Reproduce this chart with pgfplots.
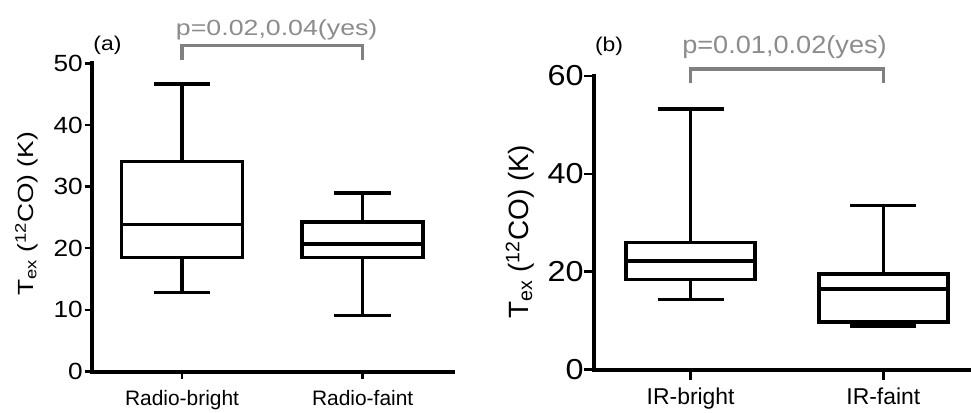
\documentclass[border=0pt]{standalone}
\usepackage{pgfplots}
\pgfplotsset{compat=1.18}
\usepgfplotslibrary{statistics}
\usepackage{fontspec}
\setmainfont{Liberation Sans}
\newcommand\fs[1]{\fontsize{#1}{#1}\selectfont}
\definecolor{sig}{RGB}{128,128,128}
\definecolor{sigtxt}{RGB}{140,140,140}
\begin{document}
\begin{tikzpicture}[x=1bp,y=1bp]
\useasboundingbox (0,0) rectangle (971,-412);
\clip (0,0) rectangle (971,-412);
\pgfplotsset{
  myax/.style={
    anchor=south west, scale only axis,
    axis x line*=bottom, axis y line*=left,
    axis line style={line width=4bp, line cap=rect, black},
    xtick={1,2}, tick align=outside,
    tick style={line width=2.5bp, black},
    clip=false,
    /pgf/number format/assume math mode=true,
    boxplot/draw direction=y,
  },
}
% ---------- panel (a)
\begin{axis}[myax,
  at={(91.7bp,-371.5bp)}, width=361.3bp, height=308.2bp,
  xmin=0.5, xmax=2.5, ymin=0, ymax=50,
  ytick={0,10,20,30,40,50},
  xticklabels={Radio-bright, Radio-faint},
  major tick length=7bp,
  yticklabel style={font=\fs{23.5}, inner sep=1.5bp, xscale=1.12},
  xticklabel style={font=\fs{21}, inner sep=0pt, yshift=-12bp},
]
\addplot[black, line width=3.6bp, line join=miter, solid,
  boxplot prepared={lower whisker=12.85, lower quartile=18.5, median=23.85,
    upper quartile=34.1, upper whisker=46.6, draw position=1,
    box extend=0.67, whisker extend=0.315}] coordinates {};
\addplot[black, line width=3.6bp, line join=miter, solid,
  boxplot prepared={lower whisker=9.1, lower quartile=18.5, median=20.7,
    upper quartile=24.3, upper whisker=29.0, draw position=2,
    box extend=0.67, whisker extend=0.315}] coordinates {};
\addplot[sig, line width=3.5bp, line join=miter] coordinates {(1,50.6) (1,52.9) (2,52.9) (2,50.6)};
\end{axis}
% ---------- panel (b)
\begin{axis}[myax,
  at={(594.3bp,-369.5bp)}, width=376.7bp, height=293.5bp,
  xmin=0.5, xmax=2.455, ymin=0, ymax=60,
  ytick={0,20,40,60},
  xticklabels={IR-bright, IR-faint},
  major tick length=10bp,
  yticklabel style={font=\fs{29}, inner sep=0.5bp, xscale=1.12},
  xticklabel style={font=\fs{23}, inner sep=0pt, yshift=-8bp},
]
\addplot[black, line width=3.6bp, line join=miter, solid,
  boxplot prepared={lower whisker=14.3, lower quartile=18.4, median=22.15,
    upper quartile=26.0, upper whisker=53.2, draw position=1,
    box extend=0.668, whisker extend=0.343}] coordinates {};
\addplot[black, line width=3.6bp, line join=miter, solid,
  boxplot prepared={lower whisker=8.9, lower quartile=9.75, median=16.4,
    upper quartile=19.55, upper whisker=33.5, draw position=2,
    box extend=0.668, whisker extend=0.343}] coordinates {};
\addplot[sig, line width=3.5bp, line join=miter] coordinates {(1,58.5) (1,61.4) (2,61.4) (2,58.5)};
\end{axis}
% ---------- annotations
\node[anchor=base, inner sep=0pt, text=sigtxt, font=\fs{22}, xscale=1.22] at (276.7,-35) {p=0.02,0.04(yes)};
\node[anchor=base, inner sep=0pt, text=sigtxt, font=\fs{25}, xscale=1.09] at (784.5,-53.3) {p=0.01,0.02(yes)};
\node[anchor=base, inner sep=0pt, font=\fs{20}, xscale=1.15] at (107.5,-50) {(a)};
\node[anchor=base, inner sep=0pt, font=\fs{20}, xscale=1.15] at (609,-51.7) {(b)};
\node[anchor=base, inner sep=0pt, rotate=90, font=\fs{22}, xscale=1.2] at (33.3,-214) {T\textsubscript{ex} (\textsuperscript{12}CO) (K)};
\node[anchor=base, inner sep=0pt, rotate=90, font=\fs{28}] at (528.3,-231.5) {T\textsubscript{ex} (\textsuperscript{12}CO) (K)};
\end{tikzpicture}
\end{document}
